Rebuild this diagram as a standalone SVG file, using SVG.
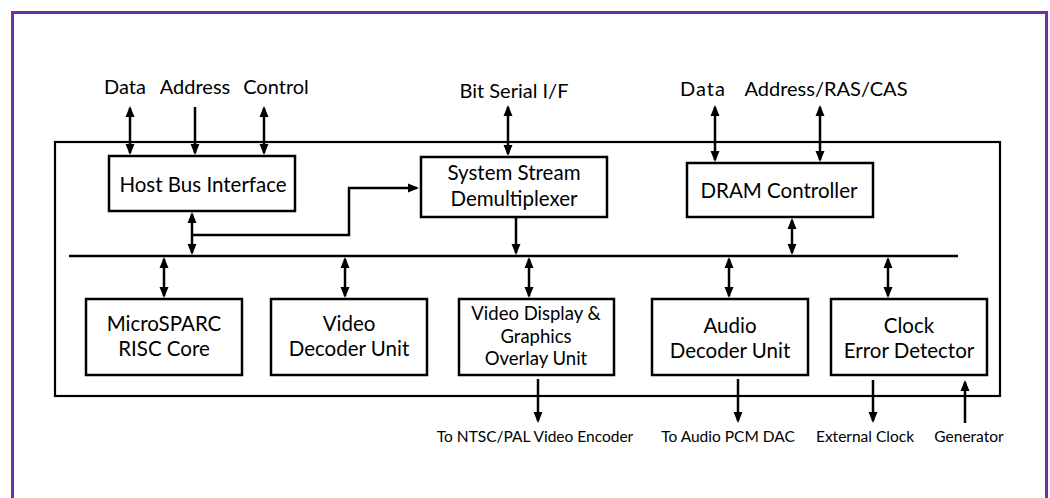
<svg xmlns="http://www.w3.org/2000/svg" width="1050" height="498" viewBox="0 0 1050 498">
<defs>
<marker id="ah" markerUnits="userSpaceOnUse" markerWidth="11" markerHeight="10" viewBox="0 0 11 10" refX="9" refY="5" orient="auto-start-reverse">
<path d="M0,0.5 L11,5 L0,9.5 z" fill="#000"/>
</marker>
<style>
.box{fill:#fff;stroke:#000;stroke-width:2.5}
.ln{fill:none;stroke:#000;stroke-width:2.5}
.bi{fill:none;stroke:#000;stroke-width:2.5;marker-start:url(#ah);marker-end:url(#ah)}
.one{fill:none;stroke:#000;stroke-width:2.5;marker-end:url(#ah)}
text{font-family:Lato,"Liberation Sans",sans-serif;fill:#000;text-anchor:middle}
.lbl{font-size:20px}
.bt{font-size:20.5px}
.sm{font-size:18.5px}
.xs{font-size:15.5px}
</style>
</defs>
<rect x="0" y="0" width="1050" height="498" fill="#fff"/>
<rect x="12.5" y="12.5" width="1034" height="500" fill="none" stroke="#7030A0" stroke-width="3"/>
<g id="chip">
<rect x="55" y="142" width="945" height="254" fill="none" stroke="#000" stroke-width="2.2"/>
</g>
<g id="external-labels">
<text class="lbl" x="125" y="94">Data</text>
<text class="lbl" x="195" y="94">Address</text>
<text class="lbl" x="276" y="94">Control</text>
<text class="lbl" x="514" y="98">Bit Serial I/F</text>
<text class="lbl" x="703" y="96" letter-spacing="1">Data</text>
<text class="lbl" x="826" y="96">Address/RAS/CAS</text>
<text class="xs" x="535" y="442">To NTSC/PAL Video Encoder</text>
<text class="xs" x="728" y="442">To Audio PCM DAC</text>
<text class="xs" x="865" y="442">External Clock</text>
<text class="xs" x="969" y="442">Generator</text>
</g>
<g id="connectors">
<line class="ln" x1="69" y1="256" x2="958" y2="256"/>
<line class="bi" x1="130" y1="108" x2="130" y2="153"/>
<line class="one" x1="195" y1="107" x2="195" y2="153"/>
<line class="bi" x1="264" y1="108" x2="264" y2="153"/>
<line class="bi" x1="508" y1="107" x2="508" y2="154"/>
<line class="bi" x1="715" y1="107" x2="715" y2="160"/>
<line class="bi" x1="820" y1="107" x2="820" y2="160"/>
<line class="bi" x1="192" y1="214" x2="192" y2="253"/>
<path class="one" d="M192,235 H349 V188 H417"/>
<line class="one" x1="516" y1="217" x2="516" y2="253"/>
<line class="bi" x1="792" y1="220" x2="792" y2="253"/>
<line class="bi" x1="164" y1="259" x2="164" y2="296"/>
<line class="bi" x1="345" y1="259" x2="345" y2="296"/>
<line class="bi" x1="529" y1="259" x2="529" y2="296"/>
<line class="bi" x1="729" y1="259" x2="729" y2="296"/>
<line class="bi" x1="888" y1="259" x2="888" y2="296"/>
<line class="one" x1="538" y1="379" x2="538" y2="421"/>
<line class="one" x1="738" y1="379" x2="738" y2="421"/>
<line class="one" x1="873" y1="380" x2="873" y2="421"/>
<line class="one" x1="965" y1="423" x2="965" y2="382"/>
</g>
<g id="host-bus-interface">
<rect class="box" x="109" y="156" width="186" height="55"/>
<text class="bt" x="203" y="192">Host Bus Interface</text>
</g>
<g id="system-stream-demultiplexer">
<rect class="box" x="421" y="157" width="186" height="60"/>
<text class="bt" x="514" y="180">System Stream</text>
<text class="bt" x="514" y="206">Demultiplexer</text>
</g>
<g id="dram-controller">
<rect class="box" x="687" y="163" width="186" height="54"/>
<text class="bt" x="779" y="198">DRAM Controller</text>
</g>
<g id="microsparc">
<rect class="box" x="86" y="299" width="156" height="76"/>
<text class="bt" x="164" y="331">MicroSPARC</text>
<text class="bt" x="164" y="356">RISC Core</text>
</g>
<g id="video-decoder">
<rect class="box" x="271" y="299" width="156" height="76"/>
<text class="bt" x="349" y="331">Video</text>
<text class="bt" x="349" y="356">Decoder Unit</text>
</g>
<g id="video-display">
<rect class="box" x="459" y="299" width="155" height="76"/>
<text class="sm" x="536" y="320">Video Display &amp;</text>
<text class="sm" x="536" y="343">Graphics</text>
<text class="sm" x="536" y="365">Overlay Unit</text>
</g>
<g id="audio-decoder">
<rect class="box" x="652" y="299" width="156" height="76"/>
<text class="bt" x="730" y="333">Audio</text>
<text class="bt" x="730" y="358">Decoder Unit</text>
</g>
<g id="clock-error-detector">
<rect class="box" x="831" y="299" width="156" height="76"/>
<text class="bt" x="909" y="333">Clock</text>
<text class="bt" x="909" y="358">Error Detector</text>
</g>
</svg>
